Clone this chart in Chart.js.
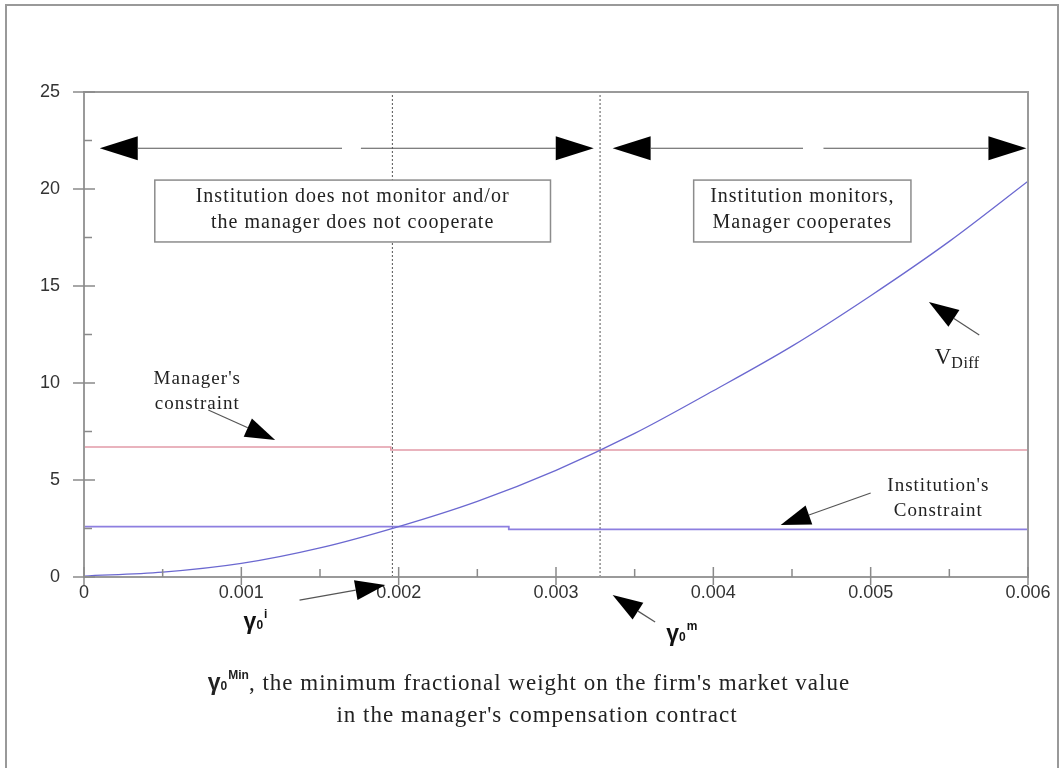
<!DOCTYPE html>
<html>
<head>
<meta charset="utf-8">
<script src="https://cdn.jsdelivr.net/npm/chart.js@4.4.1/dist/chart.umd.min.js"></script>
<style>
  html, body { margin: 0; padding: 0; background: #fff; }
</style>
</head>
<body>
<canvas id="chart" width="1060" height="768"></canvas>
<script>
// values
const gammaX = [0, 0.0005, 0.001, 0.0015, 0.002, 0.0025, 0.003, 0.0035, 0.004, 0.0045, 0.005, 0.0055, 0.006];
const vDiff = [0.05, 0.25, 0.7, 1.5, 2.6, 3.9, 5.5, 7.4, 9.6, 11.9, 14.5, 17.3, 20.4];
const managerX = [0, 0.00195, 0.00195, 0.006];
const managerY = [6.7, 6.7, 6.55, 6.55];
const institutionX = [0, 0.0027, 0.0027, 0.006];
const institutionY = [2.6, 2.6, 2.45, 2.45];
const gammaI = 0.00196;
const gammaM = 0.00328;

const xTicks = [0, 0.001, 0.002, 0.003, 0.004, 0.005, 0.006];
const xTickLabels = ['0', '0.001', '0.002', '0.003', '0.004', '0.005', '0.006'];
const xMinor = [0.0005, 0.0015, 0.0025, 0.0035, 0.0045, 0.0055];
const yTicks = [0, 5, 10, 15, 20, 25];
const yTickLabels = ['0', '5', '10', '15', '20', '25'];
const yMinor = [2.5, 7.5, 12.5, 17.5, 22.5];

const SERIF = '"Liberation Serif", "Times New Roman", serif';
const SANS = '"Liberation Sans", Arial, sans-serif';

function pts(xs, ys) {
  return xs.map((x, i) => ({ x: x, y: ys[i] }));
}

function head(ctx, x0, y0, x1, y1, len, half) {
  const a = Math.atan2(y1 - y0, x1 - x0);
  const bx = x1 - len * Math.cos(a), by = y1 - len * Math.sin(a);
  ctx.beginPath();
  ctx.moveTo(x1, y1);
  ctx.lineTo(bx + half * Math.sin(a), by - half * Math.cos(a));
  ctx.lineTo(bx - half * Math.sin(a), by + half * Math.cos(a));
  ctx.closePath();
  ctx.fill();
  return [bx, by];
}

function arrow(ctx, x0, y0, x1, y1, len, half) {
  ctx.fillStyle = '#000';
  const b = head(ctx, x0, y0, x1, y1, len, half);
  ctx.strokeStyle = '#555';
  ctx.lineWidth = 1.2;
  ctx.beginPath();
  ctx.moveTo(x0, y0);
  ctx.lineTo(b[0], b[1]);
  ctx.stroke();
}

// draw a line of text made of runs with their own fonts / baseline shifts
function runs(ctx, parts, cx, y) {
  let w = 0;
  parts.forEach(p => { ctx.font = p.font; ctx.letterSpacing = p.ls || '0px'; w += ctx.measureText(p.t).width; });
  let x = cx - w / 2;
  ctx.textAlign = 'left';
  ctx.textBaseline = 'alphabetic';
  parts.forEach(p => {
    ctx.font = p.font;
    ctx.letterSpacing = p.ls || '0px';
    ctx.fillText(p.t, x, y + (p.dy || 0));
    x += ctx.measureText(p.t).width;
  });
  ctx.letterSpacing = '0px';
}

const decor = {
  id: 'decor',
  beforeDraw(chart) {
    const ctx = chart.ctx;
    ctx.save();
    ctx.fillStyle = '#fff';
    ctx.fillRect(0, 0, chart.width, chart.height);
    ctx.strokeStyle = '#999';
    ctx.lineWidth = 2;
    ctx.beginPath();
    ctx.moveTo(6, 780);
    ctx.lineTo(6, 5);
    ctx.lineTo(1058, 5);
    ctx.lineTo(1058, 780);
    ctx.stroke();
    ctx.restore();
  },
  afterDatasetsDraw(chart) {
    const ctx = chart.ctx;
    const xs = chart.scales.x, ys = chart.scales.y;
    const X = v => xs.getPixelForValue(v);
    const Y = v => ys.getPixelForValue(v);
    const a = chart.chartArea;
    ctx.save();

    // plot frame
    ctx.strokeStyle = '#9a9a9a';
    ctx.lineWidth = 2;
    ctx.strokeRect(a.left, a.top, a.right - a.left, a.bottom - a.top);

    // tick marks crossing the axes
    ctx.lineWidth = 1.5;
    ctx.strokeStyle = '#8a8a8a';
    ctx.beginPath();
    yTicks.forEach(v => { ctx.moveTo(a.left - 11, Y(v)); ctx.lineTo(a.left + 11, Y(v)); });
    yMinor.forEach(v => { ctx.moveTo(a.left, Y(v)); ctx.lineTo(a.left + 8, Y(v)); });
    xTicks.forEach(v => { ctx.moveTo(X(v), a.bottom + 8); ctx.lineTo(X(v), a.bottom - 10); });
    xMinor.forEach(v => { ctx.moveTo(X(v), a.bottom); ctx.lineTo(X(v), a.bottom - 8); });
    ctx.stroke();

    // region arrows along the top
    const yArr = Y(22.1);
    [[0.0001, 0.00164, 0.00176, 0.00324], [0.00336, 0.00457, 0.0047, 0.00599]].forEach(r => {
      arrow(ctx, X(r[1]), yArr, X(r[0]), yArr, 38, 12);
      arrow(ctx, X(r[2]), yArr, X(r[3]), yArr, 38, 12);
    });

    // boxes
    ctx.strokeStyle = '#8c8c8c';
    ctx.lineWidth = 1.5;
    const box = (x0, x1, y0, y1, lines) => {
      const l = X(x0), r = X(x1), t = Y(y0), b = Y(y1);
      ctx.fillStyle = '#fff';
      ctx.fillRect(l, t, r - l, b - t);
      ctx.strokeRect(l, t, r - l, b - t);
      ctx.fillStyle = '#222';
      lines.forEach((s, i) => runs(ctx, [{ t: s, font: '20px ' + SERIF, ls: '1px' }], (l + r) / 2, t + 22 + i * 26));
    };
    box(0.00045, 0.002965, 20.46, 17.27, ['Institution does not monitor and/or', 'the manager does not cooperate']);
    box(0.003875, 0.005256, 20.46, 17.27, ['Institution monitors,', 'Manager cooperates']);

    // curve labels
    ctx.fillStyle = '#222';
    const lab = (s, cx, vy) => runs(ctx, [{ t: s, font: '19px ' + SERIF, ls: '1px' }], cx, Y(vy) + 6);
    lab("Manager's", X(0.00072), 10.26);
    lab('constraint', X(0.00072), 8.97);
    arrow(ctx, X(0.00079), Y(8.61), X(0.001215), Y(7.06), 30, 10);

    ctx.fillStyle = '#222';
    lab("Institution's", X(0.00543), 4.74);
    lab('Constraint', X(0.00543), 3.45);
    arrow(ctx, X(0.005), Y(4.33), X(0.004428), Y(2.68), 30, 10);

    ctx.fillStyle = '#222';
    runs(ctx, [{ t: 'V', font: '23px ' + SERIF }, { t: 'Diff', font: '16px ' + SERIF, ls: '0.5px', dy: 4 }], X(0.00555), Y(11.0));
    arrow(ctx, X(0.00569), Y(12.47), X(0.00537), Y(14.18), 30, 10);

    // gamma markers under the axis
    const g = (sup, cx, vy) => runs(ctx, [
      { t: '\u03b3', font: 'bold 23px ' + SANS },
      { t: '0', font: 'bold 12px ' + SANS, ls: '1px' },
      { t: sup, font: 'bold 12px ' + SANS, dy: -11 }
    ], cx, Y(vy));
    ctx.fillStyle = '#111';
    g('i', X(0.00109), -2.7);
    arrow(ctx, X(0.00137), Y(-1.19), X(0.001915), Y(-0.41), 30, 10);
    ctx.fillStyle = '#111';
    g('m', X(0.0038), -3.3);
    arrow(ctx, X(0.00363), Y(-2.32), X(0.00336), Y(-0.93), 30, 10);

    // axis title
    ctx.fillStyle = '#222';
    runs(ctx, [
      { t: '\u03b3', font: 'bold 23px ' + SANS },
      { t: '0', font: 'bold 12px ' + SANS, ls: '1px' },
      { t: 'Min', font: 'bold 12px ' + SANS, dy: -11 },
      { t: ", the minimum fractional weight on the firm's market value", font: '23px ' + SERIF, ls: '1px' }
    ], 529, 690);
    runs(ctx, [{ t: "in the manager's compensation contract", font: '23px ' + SERIF, ls: '1px' }], 537, 722);

    ctx.restore();
  }
};

new Chart(document.getElementById('chart'), {
  type: 'scatter',
  data: {
    datasets: [
      {
        label: 'VDiff',
        data: pts(gammaX, vDiff),
        showLine: true,
        cubicInterpolationMode: 'monotone',
        borderColor: '#6b68d0',
        borderWidth: 1.3,
        pointRadius: 0
      }, {
        label: "Manager's constraint",
        data: pts(managerX, managerY),
        showLine: true,
        borderColor: '#e29aa8',
        borderWidth: 1.5,
        pointRadius: 0
      }, {
        label: "Institution's constraint",
        data: pts(institutionX, institutionY),
        showLine: true,
        borderColor: '#8d7fe0',
        borderWidth: 1.8,
        pointRadius: 0
      }, {
        label: 'gamma i',
        data: pts([gammaI, gammaI], [0, 25]),
        showLine: true,
        borderColor: '#555',
        borderWidth: 1,
        borderDash: [2, 2],
        pointRadius: 0
      }, {
        label: 'gamma m',
        data: pts([gammaM, gammaM], [0, 25]),
        showLine: true,
        borderColor: '#555',
        borderWidth: 1,
        borderDash: [2, 2],
        pointRadius: 0
      }
    ]
  },
  options: {
    responsive: false,
    animation: false,
    layout: { padding: { left: 0, top: 92, right: 32, bottom: 0 } },
    plugins: { legend: { display: false }, tooltip: { enabled: false } },
    scales: {
      x: {
        type: 'linear',
        min: 0,
        max: 0.006,
        afterBuildTicks: s => { s.ticks = xTicks.map(v => ({ value: v })); },
        afterFit: s => { s.height = 191; },
        grid: { display: false, drawTicks: false },
        border: { display: false },
        ticks: {
          padding: 5,
          color: '#333',
          font: { family: SANS, size: 18 },
          callback: (v, i) => xTickLabels[i]
        }
      },
      y: {
        min: 0,
        max: 25,
        afterBuildTicks: s => { s.ticks = yTicks.map(v => ({ value: v })); },
        afterFit: s => { s.width = 84; },
        grid: { display: false, drawTicks: false },
        border: { display: false },
        ticks: {
          padding: 24,
          color: '#333',
          font: { family: SANS, size: 18 },
          callback: (v, i) => yTickLabels[i]
        }
      }
    }
  },
  plugins: [decor]
});
</script>
</body>
</html>
